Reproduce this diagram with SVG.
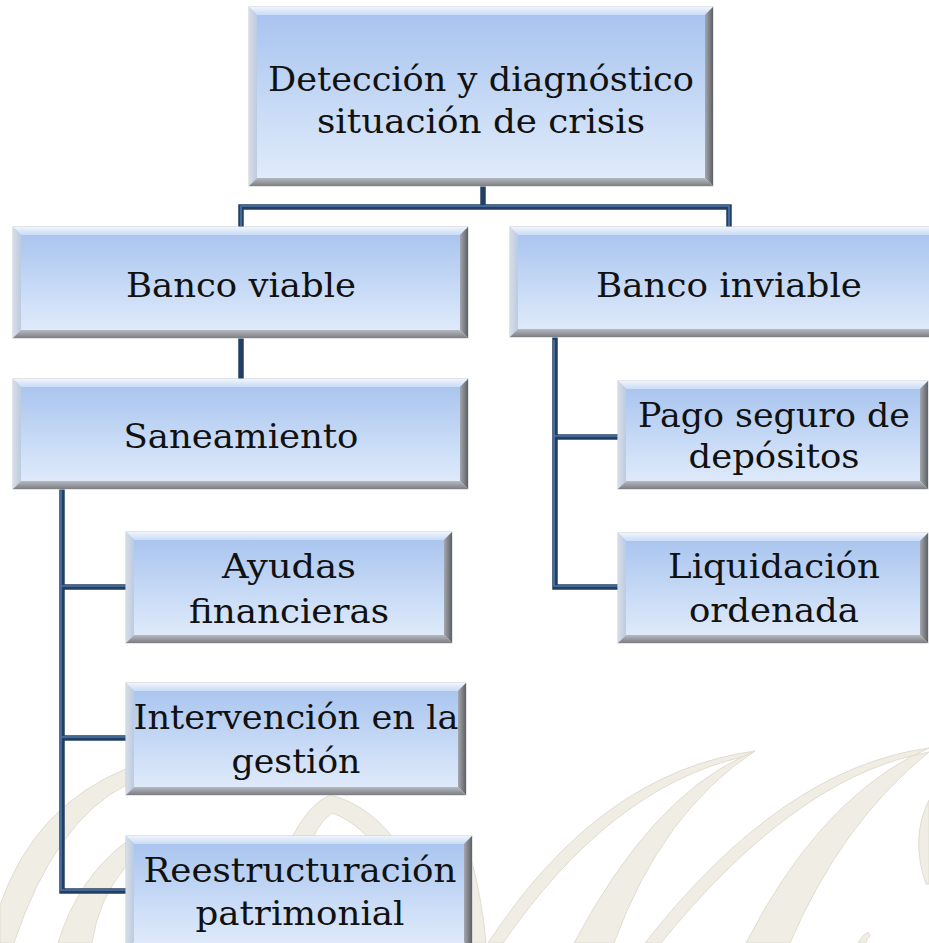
<svg xmlns="http://www.w3.org/2000/svg" width="929" height="943" viewBox="0 0 929 943">
<defs>
<linearGradient id="gFill" x1="0" y1="0" x2="0" y2="1">
<stop offset="0" stop-color="#a6c2ee"/>
<stop offset="0.5" stop-color="#c4d8f5"/>
<stop offset="1" stop-color="#e3edfb"/>
</linearGradient>
<linearGradient id="gTop" x1="0" y1="0" x2="0" y2="1">
<stop offset="0" stop-color="#eef4fc"/>
<stop offset="1" stop-color="#c9dbf5"/>
</linearGradient>
<linearGradient id="gLeft" x1="0" y1="0" x2="1" y2="0">
<stop offset="0" stop-color="#d6dde8"/>
<stop offset="1" stop-color="#bccbe0"/>
</linearGradient>
<linearGradient id="gRight" x1="0" y1="0" x2="1" y2="0">
<stop offset="0" stop-color="#a4a8ae"/>
<stop offset="1" stop-color="#5e6064"/>
</linearGradient>
<linearGradient id="gBot" x1="0" y1="0" x2="0" y2="1">
<stop offset="0" stop-color="#b6bac0"/>
<stop offset="1" stop-color="#7c7e82"/>
</linearGradient>
</defs>
<style>
.bx{fill:url(#gFill);stroke:#cfd2d6;stroke-width:1.2}
.bt{fill:url(#gTop)}
.bl{fill:url(#gLeft)}
.br{fill:url(#gRight)}
.bb{fill:url(#gBot)}
.lbl{font-family:"DejaVu Serif","Liberation Serif",serif;font-size:34px;fill:#111;text-anchor:middle}
.cn{fill:none;stroke:#223f63;stroke-width:5.5;stroke-linejoin:miter}
.ch{fill:none;stroke:#4f77a6;stroke-width:1.6}
.wm{fill:#f0ede5;stroke:#e0dcd0;stroke-width:1}
</style>
<rect width="929" height="943" fill="#ffffff"/>
<g id="watermark">
<path class="wm" d="M0,905 Q35,805 128,768 L128,784 Q55,820 14,943 L0,943 Z"/>
<path class="wm" d="M58,943 Q78,878 126,842 L126,866 Q98,900 92,943 Z"/>
<path class="wm" d="M255,943 Q288,812 330,795 Q372,805 402,850 L388,862 Q360,822 332,813 Q302,832 287,943 Z"/>
<path class="wm" d="M472,862 Q482,900 486,943 L472,943 Z"/>
<path class="wm" d="M755,751 Q600,772 488,943 L503,943 Q610,788 742,757 Z"/>
<path class="wm" d="M742,757 Q650,800 574,943 L614,943 Q662,812 755,751 Z"/>
<path class="wm" d="M929,748 Q782,768 645,943 L661,943 Q790,784 915,755 Z"/>
<path class="wm" d="M912,756 Q815,808 746,943 L790,943 Q842,822 929,752 Z"/>
<path class="wm" d="M929,800 Q910,838 926,884 L929,884 Z"/>
<path class="wm" d="M858,943 Q862,935 868,932 L870,936 Q866,939 866,943 Z"/>
</g>
<g id="connectors">
<path class="cn" d="M483,186 V207"/>
<path class="cn" d="M241,227 V207 H729 V227"/>
<path class="cn" d="M241,338 V379"/>
<path class="cn" d="M555,337 V587 H618 M555,437 H618"/>
<path class="cn" d="M62,489 V891 H126 M62,587 H126 M62,738 H126"/>
<path class="ch" d="M241,226 V206 H729 V226"/>
<path class="ch" d="M554,340 V586 H618 M554,436 H618"/>
<path class="ch" d="M61,490 V890 H126 M61,586 H126 M61,737 H126"/>
</g>
<g id="n-deteccion">
<rect class="bx" x="249" y="7" width="464" height="179"/>
<polygon class="bt" points="249,7 713,7 705,15 257,15"/>
<polygon class="bl" points="249,7 257,15 257,178 249,186"/>
<polygon class="br" points="713,7 713,186 705,178 705,15"/>
<polygon class="bb" points="249,186 713,186 705,178 257,178"/>
<text class="lbl" x="481" y="91" textLength="426" lengthAdjust="spacingAndGlyphs">Detección y diagnóstico</text>
<text class="lbl" x="481" y="133" textLength="328" lengthAdjust="spacingAndGlyphs">situación de crisis</text>
</g>
<g id="n-viable">
<rect class="bx" x="13" y="227" width="455" height="111"/>
<polygon class="bt" points="13,227 468,227 460,235 21,235"/>
<polygon class="bl" points="13,227 21,235 21,330 13,338"/>
<polygon class="br" points="468,227 468,338 460,330 460,235"/>
<polygon class="bb" points="13,338 468,338 460,330 21,330"/>
<text class="lbl" x="241" y="297" textLength="230" lengthAdjust="spacingAndGlyphs">Banco viable</text>
</g>
<g id="n-inviable">
<rect class="bx" x="510" y="227" width="438" height="110"/>
<polygon class="bt" points="510,227 948,227 940,235 518,235"/>
<polygon class="bl" points="510,227 518,235 518,329 510,337"/>
<polygon class="bb" points="510,337 948,337 940,329 518,329"/>
<text class="lbl" x="729" y="297" textLength="266" lengthAdjust="spacingAndGlyphs">Banco inviable</text>
</g>
<g id="n-saneamiento">
<rect class="bx" x="13" y="379" width="455" height="110"/>
<polygon class="bt" points="13,379 468,379 460,387 21,387"/>
<polygon class="bl" points="13,379 21,387 21,481 13,489"/>
<polygon class="br" points="468,379 468,489 460,481 460,387"/>
<polygon class="bb" points="13,489 468,489 460,481 21,481"/>
<text class="lbl" x="241" y="448" textLength="235" lengthAdjust="spacingAndGlyphs">Saneamiento</text>
</g>
<g id="n-pago">
<rect class="bx" x="618" y="381" width="310" height="108"/>
<polygon class="bt" points="618,381 928,381 920,389 626,389"/>
<polygon class="bl" points="618,381 626,389 626,481 618,489"/>
<polygon class="br" points="928,381 928,489 920,481 920,389"/>
<polygon class="bb" points="618,489 928,489 920,481 626,481"/>
<text class="lbl" x="774" y="427" textLength="272" lengthAdjust="spacingAndGlyphs">Pago seguro de</text>
<text class="lbl" x="774" y="468" textLength="171" lengthAdjust="spacingAndGlyphs">depósitos</text>
</g>
<g id="n-liquidacion">
<rect class="bx" x="618" y="533" width="310" height="110"/>
<polygon class="bt" points="618,533 928,533 920,541 626,541"/>
<polygon class="bl" points="618,533 626,541 626,635 618,643"/>
<polygon class="br" points="928,533 928,643 920,635 920,541"/>
<polygon class="bb" points="618,643 928,643 920,635 626,635"/>
<text class="lbl" x="774" y="578" textLength="212" lengthAdjust="spacingAndGlyphs">Liquidación</text>
<text class="lbl" x="774" y="622" textLength="170" lengthAdjust="spacingAndGlyphs">ordenada</text>
</g>
<g id="n-ayudas">
<rect class="bx" x="126" y="532" width="326" height="111"/>
<polygon class="bt" points="126,532 452,532 444,540 134,540"/>
<polygon class="bl" points="126,532 134,540 134,635 126,643"/>
<polygon class="br" points="452,532 452,643 444,635 444,540"/>
<polygon class="bb" points="126,643 452,643 444,635 134,635"/>
<text class="lbl" x="289" y="578" textLength="134" lengthAdjust="spacingAndGlyphs">Ayudas</text>
<text class="lbl" x="289" y="623" textLength="200" lengthAdjust="spacingAndGlyphs">financieras</text>
</g>
<g id="n-intervencion">
<rect class="bx" x="126" y="683" width="340" height="112"/>
<polygon class="bt" points="126,683 466,683 458,691 134,691"/>
<polygon class="bl" points="126,683 134,691 134,787 126,795"/>
<polygon class="br" points="466,683 466,795 458,787 458,691"/>
<polygon class="bb" points="126,795 466,795 458,787 134,787"/>
<text class="lbl" x="296" y="729" textLength="325" lengthAdjust="spacingAndGlyphs">Intervención en la</text>
<text class="lbl" x="296" y="773" textLength="129" lengthAdjust="spacingAndGlyphs">gestión</text>
</g>
<g id="n-reestructuracion">
<rect class="bx" x="126" y="836" width="346" height="114"/>
<polygon class="bt" points="126,836 472,836 464,844 134,844"/>
<polygon class="bl" points="126,836 134,844 134,942 126,950"/>
<polygon class="br" points="472,836 472,950 464,942 464,844"/>
<text class="lbl" x="300" y="882" textLength="313" lengthAdjust="spacingAndGlyphs">Reestructuración</text>
<text class="lbl" x="300" y="925" textLength="209" lengthAdjust="spacingAndGlyphs">patrimonial</text>
</g>
</svg>
